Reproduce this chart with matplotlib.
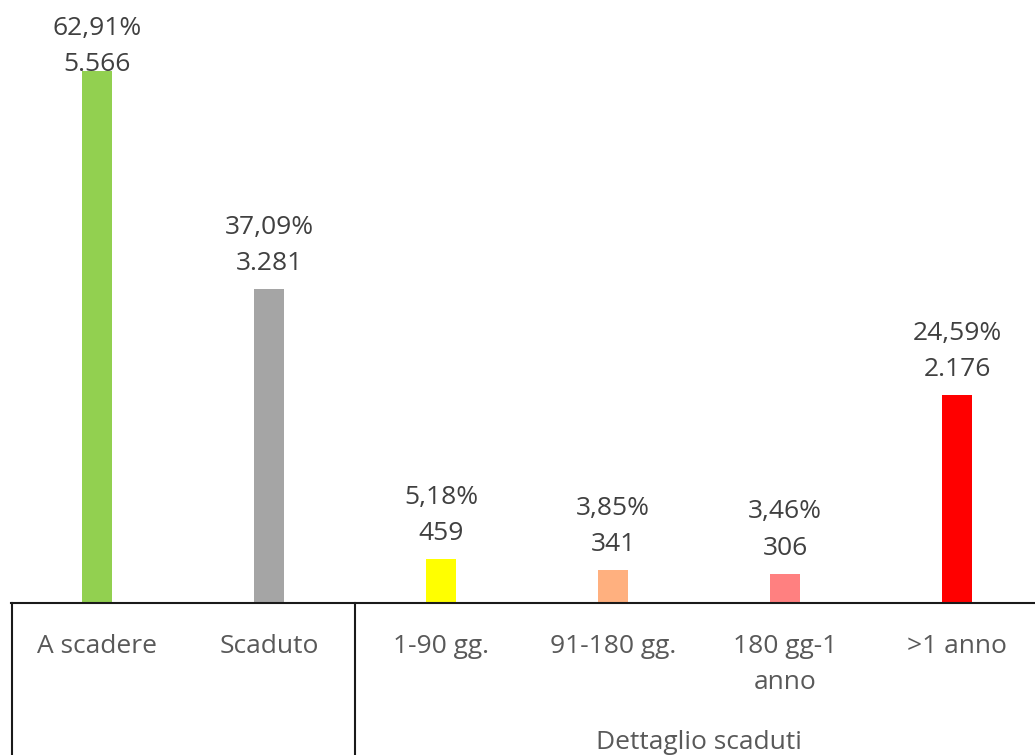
import matplotlib
matplotlib.use("Agg")

import matplotlib.pyplot as plt
from matplotlib.lines import Line2D

categories = ["A scadere", "Scaduto", "1-90 gg.", "91-180 gg.", "180 gg-1\nanno", ">1 anno"]
values = [5566, 3281, 459, 341, 306, 2176]
value_labels = ["5.566", "3.281", "459", "341", "306", "2.176"]
percent_labels = ["62,91%", "37,09%", "5,18%", "3,85%", "3,46%", "24,59%"]
group_label = "Dettaglio scaduti"

colors = ["#92D050", "#A5A5A5", "#FFFF00", "#FFB07F", "#FF8080", "#FF0000"]

plt.rcParams["font.family"] = ["Open Sans", "DejaVu Sans"]

W, H = 1035, 755
fig = plt.figure(figsize=(W / 100, H / 100), dpi=100)

base_px = 603
left_px = 11
ax = fig.add_axes([left_px / W, (H - base_px) / H, 1 - left_px / W, base_px / H])

x = list(range(len(categories)))
ax.bar(x, values, width=0.17, color=colors, zorder=2)

ax.set_xlim(-0.5, (W - 97) / 172)
ax.set_ylim(0, values[0] * base_px / 532)

for i, (v, pct, lab) in enumerate(zip(values, percent_labels, value_labels)):
    off = 13 if i > 0 else -6
    ax.annotate(f"{pct}\n{lab}", (i, v), xytext=(0, off * 0.72), textcoords="offset points",
                ha="center", va="bottom", fontsize=19, color="#404040",
                linespacing=1.6, annotation_clip=False)

for s in ["top", "right", "left"]:
    ax.spines[s].set_visible(False)
ax.spines["bottom"].set_linewidth(1.5)
ax.spines["bottom"].set_color("#1a1a1a")
ax.set_yticks([])
ax.set_xticks(x)
ax.set_xticklabels(categories, fontsize=19, color="#595959", linespacing=1.6)
ax.tick_params(axis="x", length=0, pad=22)

# group box lines below the axis
for px in [left_px + 0.5, 355]:
    fig.add_artist(Line2D([px / W, px / W], [0, (H - base_px) / H],
                          transform=fig.transFigure, color="#1a1a1a", lw=1.5))

ax.annotate(group_label, (3.5, 0), xytext=(0, -(H - base_px - 6) * 0.72),
            textcoords="offset points", ha="center", va="baseline",
            fontsize=19, color="#595959", annotation_clip=False)

fig.savefig("out.png", dpi=100)
